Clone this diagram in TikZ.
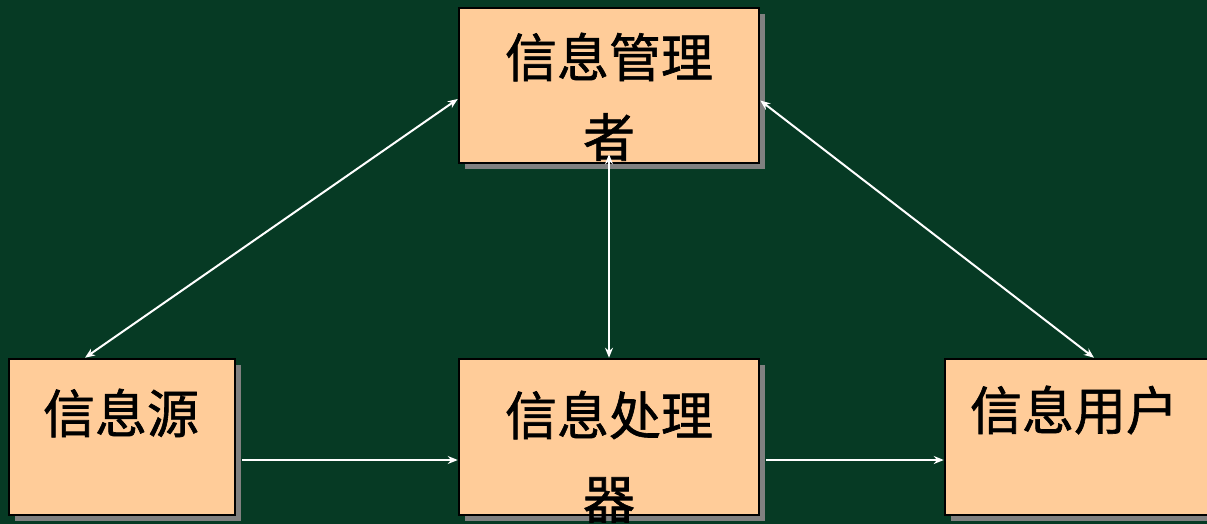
\documentclass[tikz,border=0pt]{standalone}
\usepackage{fontspec}
\newfontfamily\cjk{Noto Sans CJK SC}[FakeBold=1.2]
\usetikzlibrary{arrows.meta,shadows}
\definecolor{bggreen}{HTML}{063A24}
\definecolor{boxfill}{HTML}{FFCC99}
\definecolor{shadowgray}{HTML}{808080}
\tikzset{
  box/.style={draw=black, line width=2.5pt, fill=boxfill, rectangle, inner sep=0pt,
    general shadow={fill=shadowgray, shadow xshift=6pt, shadow yshift=-6pt}},
  lbl/.style={font=\cjk\fontsize{52}{52}\selectfont, text=black, inner sep=0pt},
  conn/.style={draw=white, line width=2pt},
  dbl/.style={{Stealth[length=10pt,width=8pt]}-{Stealth[length=10pt,width=8pt]}},
  sgl/.style={-{Stealth[length=10pt,width=8pt]}}
}
\begin{document}
\begin{tikzpicture}[x=1pt,y=-1pt]
\fill[bggreen] (0,0) rectangle (1207,524);
\useasboundingbox (0,0) rectangle (1207,524);
\node[box, minimum width=300pt, minimum height=155pt] (mgr) at (609,85.5) {};
\node[box, minimum width=226pt, minimum height=156pt] (src) at (122,437) {};
\node[box, minimum width=300pt, minimum height=156pt] (proc) at (609,437) {};
\node[box, minimum width=270pt, minimum height=156pt] (user) at (1080,437) {};
\node[lbl] (t1) at (609,57) {信息管理};
\node[lbl] (t2) at (609,137) {者};
\node[lbl] (t3) at (121,413) {信息源};
\node[lbl] (t4) at (609,415) {信息处理};
\node[lbl] (t5) at (609,500) {器};
\node[lbl] (t6) at (1074,410) {信息用户};
\draw[conn, dbl] ([yshift=-13.5pt]mgr.west) -- ([xshift=-37pt]src.north);
\draw[conn, dbl] ([yshift=-15pt]mgr.east) -- ([xshift=14pt]user.north);
\draw[conn, dbl] ([yshift=10pt]mgr.south) -- (proc.north);
\draw[conn, sgl] ([xshift=6pt,yshift=-23pt]src.east) -- ([yshift=-23pt]proc.west);
\draw[conn, sgl] ([xshift=6pt,yshift=-23pt]proc.east) -- ([yshift=-23pt]user.west);
\end{tikzpicture}
\end{document}
